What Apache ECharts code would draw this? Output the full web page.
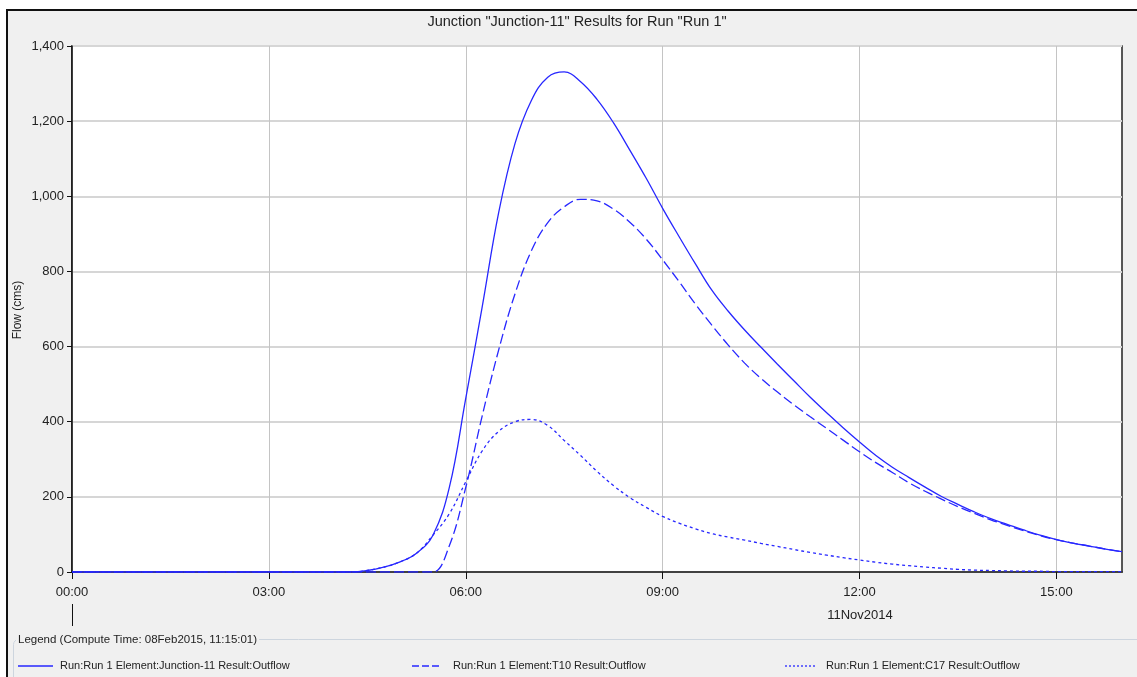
<!DOCTYPE html>
<html>
<head>
<meta charset="utf-8">
<script src="https://cdn.jsdelivr.net/npm/echarts@6/dist/echarts.min.js"></script>
<style>
  html, body { margin: 0; padding: 0; background: #ffffff; }
  #frame {
    position: absolute; left: 6px; top: 9px; width: 1140px; height: 680px;
    border-left: 2.5px solid #111; border-top: 2.5px solid #111;
    background: #f0f0f0;
  }
  #chart { position: absolute; left: 0; top: 0; width: 1137px; height: 677px; }
</style>
</head>
<body>
<div id="frame"></div>
<div id="chart"></div>
<script>
// Simulation time in hours from 00:00 on 11Nov2014 (flow is zero before 04:15)
const hours = [0, 4.25, 4.5, 4.75, 5, 5.25, 5.5, 5.75, 6, 6.25, 6.5, 6.75, 7, 7.25, 7.5, 7.75,
  8, 8.25, 8.5, 8.75, 9, 9.25, 9.5, 9.75, 10, 10.25, 10.5, 10.75, 11, 11.25, 11.5, 11.75,
  12, 12.25, 12.5, 12.75, 13, 13.25, 13.5, 13.75, 14, 14.25, 14.5, 14.75, 15, 15.25, 15.5, 15.75, 16];

// Outflow (cms)
const junction11 = [0, 0, 4, 13, 27, 50, 98, 225, 462, 705, 955, 1140, 1255, 1317, 1331, 1305,
  1258, 1196, 1123, 1048, 968, 893, 820, 750, 694, 644, 598, 553, 509, 465, 424, 384,
  346, 310, 279, 252, 226, 201, 180, 160, 142, 127, 112, 98, 86, 77, 69, 61, 54];
const t10 = [0, 0, 0, 0, 0, 0, 0, 70, 225, 415, 590, 740, 855, 930, 972, 992,
  988, 966, 931, 886, 831, 773, 713, 657, 604, 556, 515, 479, 445, 413, 382, 351,
  320, 291, 265, 238, 215, 194, 174, 156, 139, 124, 110, 97, 86, 77, 69, 61, 54];
const c17 = [0, 0, 4, 13, 27, 50, 98, 155, 240, 322, 374, 400, 406, 390, 350, 310,
  268, 230, 198, 172, 148, 130, 115, 102, 93, 85, 76, 68, 60, 52, 45, 38,
  32, 26, 21, 17, 13, 10, 7, 5, 4, 3, 2, 2, 1, 1, 1, 1, 1];

const xTickHours = [0, 3, 6, 9, 12, 15];
const yTicks = [0, 200, 400, 600, 800, 1000, 1200, 1400];

const seriesInfo = [
  { name: 'Run:Run 1 Element:Junction-11 Result:Outflow', values: junction11, dash: 'solid', key: [] },
  { name: 'Run:Run 1 Element:T10 Result:Outflow', values: t10, dash: [10, 4], key: [7, 3] },
  { name: 'Run:Run 1 Element:C17 Result:Outflow', values: c17, dash: [3, 3], key: [2, 2] }
];

const FONT = '"Liberation Sans", Arial, sans-serif';
const BLUE = '#2727ff';

function hhmm(h) {
  return String(Math.floor(h)).padStart(2, '0') + ':00';
}

const chart = echarts.init(document.getElementById('chart'), null, { renderer: 'canvas' });

const legendX = [18, 412, 785];
const legendY = 666;
const graphics = [
  { type: 'text', x: 577, y: 22, style: { text: 'Junction "Junction-11" Results for Run "Run 1"', font: '14.5px ' + FONT, fill: '#222', align: 'center', verticalAlign: 'middle' } },
  { type: 'text', x: 18, y: 310, rotation: Math.PI / 2, style: { text: 'Flow (cms)', font: '12px ' + FONT, fill: '#222', align: 'center', verticalAlign: 'middle' } },
  { type: 'text', x: 860, y: 615, style: { text: '11Nov2014', font: '13px ' + FONT, fill: '#222', align: 'center', verticalAlign: 'middle' } },
  { type: 'line', shape: { x1: 72.5, y1: 604, x2: 72.5, y2: 626 }, style: { stroke: '#111', lineWidth: 1 } },
  { type: 'rect', shape: { x: 13.5, y: 639.5, width: 1200, height: 120, r: 5 }, style: { fill: 'none', stroke: '#cdd5de', lineWidth: 1 } },
  { type: 'text', x: 16, y: 640, style: { text: 'Legend (Compute Time: 08Feb2015, 11:15:01)', font: '11.5px ' + FONT, fill: '#222', verticalAlign: 'middle', backgroundColor: '#f0f0f0', padding: [2, 2, 2, 2] } }
];
seriesInfo.forEach(function (s, i) {
  const x0 = legendX[i];
  graphics.push({ type: 'line', shape: { x1: x0, y1: legendY, x2: x0 + (i === 0 ? 35 : 30), y2: legendY },
    style: { stroke: BLUE, lineWidth: 1.3, lineDash: s.key.length ? s.key : null } });
  graphics.push({ type: 'text', x: x0 + (i === 0 ? 42 : 41), y: legendY, style: { text: s.name, font: '11px ' + FONT, fill: '#222', verticalAlign: 'middle' } });
});

const option = {
  animation: false,
  textStyle: { fontFamily: FONT },
  grid: { left: 72, top: 46, right: 15, bottom: 105, show: true, backgroundColor: '#ffffff', borderColor: '#222', borderWidth: 1.5 },
  xAxis: {
    type: 'value', min: 0, max: 16, interval: 3,
    axisLine: { show: true, lineStyle: { color: '#111', width: 1.5 } },
    axisTick: { show: true, length: 7, customValues: xTickHours, lineStyle: { color: '#111' } },
    axisLabel: { customValues: xTickHours, formatter: hhmm, margin: 14, fontSize: 13, color: '#222' },
    splitLine: { show: true, lineStyle: { color: '#c4c4c4', width: 1 } }
  },
  yAxis: {
    type: 'value', min: 0, max: 1400, interval: 200,
    axisLine: { show: true, lineStyle: { color: '#111', width: 1.5 } },
    axisTick: { show: true, length: 5, customValues: yTicks, lineStyle: { color: '#111' } },
    axisLabel: { customValues: yTicks, formatter: function (v) { return v.toLocaleString('en-US'); }, margin: 8, fontSize: 13, color: '#222', padding: [3, 0, 0, 0] },
    splitLine: { show: true, lineStyle: { color: '#d6d6d6', width: 2 } }
  },
  series: seriesInfo.map(function (s) {
    return {
      name: s.name, type: 'line', showSymbol: false, smooth: 0.4,
      data: hours.map(function (h, i) { return [h, s.values[i]]; }),
      lineStyle: { color: BLUE, width: 1.3, type: s.dash }
    };
  }),
  graphic: graphics
};
chart.setOption(option);
</script>
</body>
</html>
